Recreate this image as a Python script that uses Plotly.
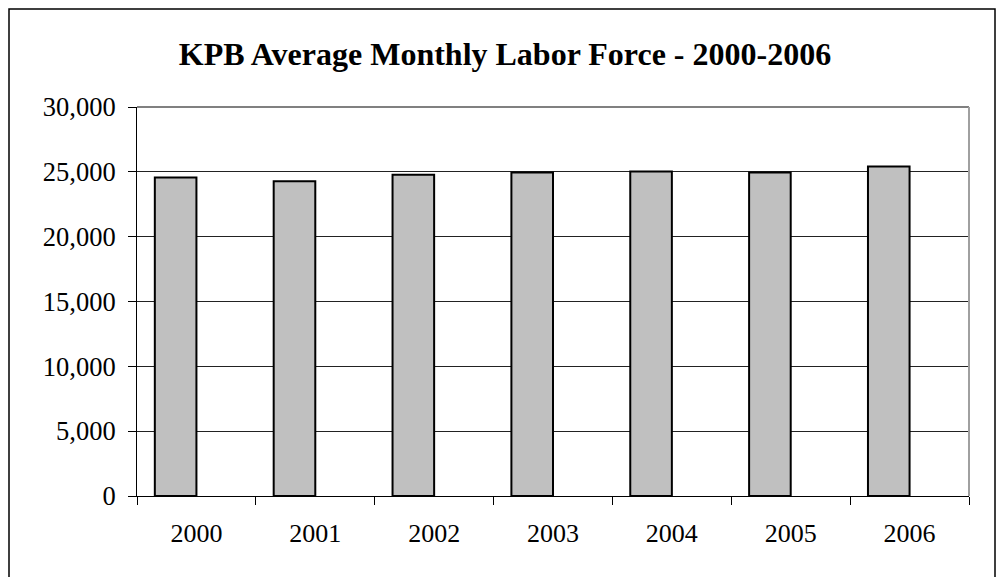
import plotly.graph_objects as go

years = ["2000", "2001", "2002", "2003", "2004", "2005", "2006"]
labor_force = [24570, 24280, 24770, 24950, 25030, 24950, 25420]

font_name = "Liberation Serif"

# bars sit left of the category centre (empty second series in the original)
bars = go.Bar(
    x=years,
    y=labor_force,
    marker=dict(color="#c0c0c0", line=dict(color="black", width=2)),
    width=0.35,
    offset=-0.35,
)

fig = go.Figure(data=[bars])

# page body has an 8px margin: figure is 989x569 placed at (8, 8)
fig.update_layout(
    width=989,
    height=569,
    margin=dict(l=129, r=28, t=99, b=81),
    paper_bgcolor="white",
    plot_bgcolor="white",
    showlegend=False,
    font=dict(family=font_name, size=26, color="black"),
    title=dict(
        text="KPB Average Monthly Labor Force - 2000-2006",
        x=(505 - 8) / 989, xref="container", xanchor="center",
        y=1 - (54 - 8) / 569, yref="container", yanchor="middle",
        font=dict(family=font_name, size=32, color="black", weight="bold"),
    ),
    xaxis=dict(
        showgrid=False,
        showline=True, linecolor="black", linewidth=1,
        ticks="outside", tickson="boundaries", ticklen=8, tickcolor="black",
        ticklabelstandoff=14,
        tickfont=dict(size=26),
    ),
    yaxis=dict(
        range=[0, 30000], dtick=5000, tickformat=",d",
        showgrid=True, gridcolor="#222222", gridwidth=1,
        zeroline=False,
        showline=True, linecolor="black", linewidth=1,
        ticks="outside", ticklen=8, tickcolor="black",
        ticklabelstandoff=7,
        tickfont=dict(size=26.5),
    ),
    shapes=[
        # gray plot-area frame (top and right)
        dict(type="line", xref="paper", yref="paper", x0=0, x1=1, y0=1, y1=1,
             line=dict(color="#808080", width=2), layer="above"),
        dict(type="line", xref="paper", yref="paper", x0=1, x1=1, y0=0, y1=1,
             line=dict(color="#a0a0a0", width=2), layer="above"),
        # outer chart border
        dict(type="rect", xref="paper", yref="paper",
             x0=(9 - 137) / 832, x1=(995 - 137) / 832,
             y0=(496 - 9) / 389, y1=(496 - 600) / 389,
             line=dict(color="black", width=1.5), layer="below"),
    ],
)

fig.write_html("out.html")
